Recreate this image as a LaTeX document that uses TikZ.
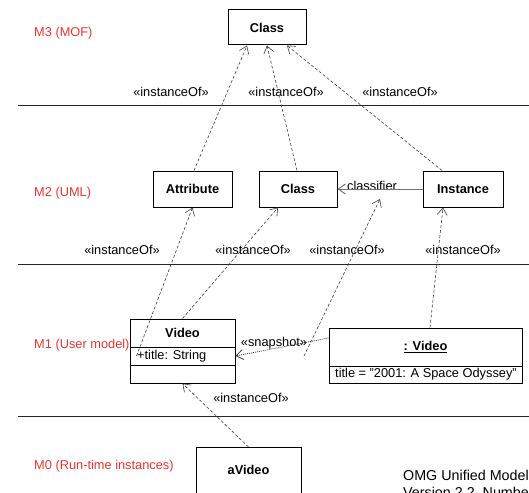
\documentclass[tikz,border=0pt]{standalone}
\usepackage{fontspec}
\setmainfont{Liberation Sans}
\usetikzlibrary{arrows.meta,calc}
\definecolor{lvlred}{RGB}{240,50,50}
\definecolor{linegray}{RGB}{60,60,60}
\begin{document}
\begin{tikzpicture}[x=1pt,y=-1pt,
  font=\fontsize{12.8}{15}\selectfont,
  box/.style={draw, line width=1pt, inner sep=0pt, font=\fontsize{12.8}{15}\selectfont\bfseries},
  cbox/.style={draw, line width=1pt, inner sep=0pt},
  lvl/.style={text=lvlred, anchor=west, inner sep=0pt},
  stereo/.style={inner sep=0pt},
  dep/.style={draw=linegray, line width=0.6pt, dash pattern=on 3pt off 2pt, -{Straight Barb[length=7pt,width=10pt]}},
  snap/.style={draw=linegray, line width=0.8pt, dash pattern=on 1pt off 1pt, -{Straight Barb[length=7pt,width=10pt]}},
  assoc/.style={draw=black!55, line width=1pt, -{Straight Barb[length=7pt,width=10pt]}},
  sepline/.style={draw=black!85, line width=0.9pt},
  foot/.style={anchor=base west, inner sep=0pt, font=\fontsize{14.3}{17}\selectfont}]
\useasboundingbox (0,0) rectangle (529,492);

% level separators
\coordinate (s1a) at (18,105); \coordinate (s1b) at (529,105);
\coordinate (s2a) at (18,264); \coordinate (s2b) at (529,264);
\coordinate (s3a) at (18,416); \coordinate (s3b) at (529,416);
\draw[sepline] (s1a) -- (s1b);
\draw[sepline] (s2a) -- (s2b);
\draw[sepline] (s3a) -- (s3b);

% level labels
\node[lvl] (l3) at (34,33) {M3 (MOF)};
\node[lvl] (l2) at (34,193) {M2 (UML)};
\node[lvl] (l1) at (34,345) {M1 (User model)};
\node[lvl] (l0) at (34,466) {M0 (Run-time instances)};

% M3
\node[box, minimum width=78pt, minimum height=35pt] (m3class) at (267,27.5) {Class};

% M2
\node[box, minimum width=79pt, minimum height=36pt] (attr) at (192.5,189) {Attribute};
\node[box, minimum width=78pt, minimum height=36pt] (m2class) at (298,189) {Class};
\node[box, minimum width=80pt, minimum height=36pt] (inst) at (463,189) {Instance};

% M1 class Video
\node[box, minimum width=105pt, minimum height=28pt] (vname) at (182.5,333) {Video};
\node[cbox, minimum width=105pt, minimum height=18pt] (vattr) at (182.5,356) {};
\node[cbox, minimum width=105pt, minimum height=18pt] (vops) at (182.5,374) {};
\node[anchor=west, inner sep=0pt] (vattrtxt) at (137,356) {+title: String};

% M1 object :Video
\node[box, minimum width=193pt, minimum height=38pt] (oname) at (425.5,347) {\underline{: Video}};
\node[cbox, minimum width=193pt, minimum height=17pt] (oval) at (425.5,374.5) {};
\node[anchor=west, inner sep=0pt] (ovaltxt) at (335,374.5) {title = "2001: A Space Odyssey"};

% M0
\node[box, minimum width=105pt, minimum height=50pt, anchor=north] (avideo) at (248.5,447) {};
\node[font=\fontsize{12.8}{15}\selectfont\bfseries, inner sep=0pt] (avtxt) at (248.5,470) {aVideo};

% footnote text (cut by the page edge, as in the source)
\node[foot] (omg1) at (403,480) {OMG Unified Modeling};
\node[foot] (omg2) at (403,497.5) {Version 2.2, Number};

% stereotype labels
\node[stereo] (i31) at (171,92) {«instanceOf»};
\node[stereo] (i32) at (286,92) {«instanceOf»};
\node[stereo] (i33) at (400,92) {«instanceOf»};
\node[stereo] (i21) at (122,250) {«instanceOf»};
\node[stereo] (i22) at (253,250) {«instanceOf»};
\node[stereo] (i23) at (347,250) {«instanceOf»};
\node[stereo] (i24) at (463,250) {«instanceOf»};
\node[stereo] (i11) at (251,398) {«instanceOf»};
\node[stereo] (snaplbl) at (274,343) {«snapshot»};
\node[stereo] (clslbl) at (372,186) {classifier};

% associations
\draw[assoc] (inst.west) -- (m2class.east);
\draw[snap] ([yshift=9pt]oname.west) -- (vattr.east);
\coordinate (snapmid) at (304,356);
\coordinate (clsmid) at (380,199);

% dependencies
\draw[dep] ([xshift=1.5pt]attr.north) -- ([xshift=-20pt]m3class.south);
\draw[dep] ([xshift=-1pt]m2class.north) -- (m3class.south);
\draw[dep] ([xshift=-21pt]inst.north) -- ([xshift=20pt]m3class.south);
\draw[dep] ([xshift=7pt]vattr.west) -- (attr.south);
\draw[dep] (vname.north) -- ([xshift=-20pt]m2class.south);
\draw[dep] (snapmid) -- (clsmid);
\draw[dep] ([xshift=4.5pt]oname.north) -- ([xshift=-20pt]inst.south);
\draw[dep] (avideo.north) -- (vops.south);
\end{tikzpicture}
\end{document}
